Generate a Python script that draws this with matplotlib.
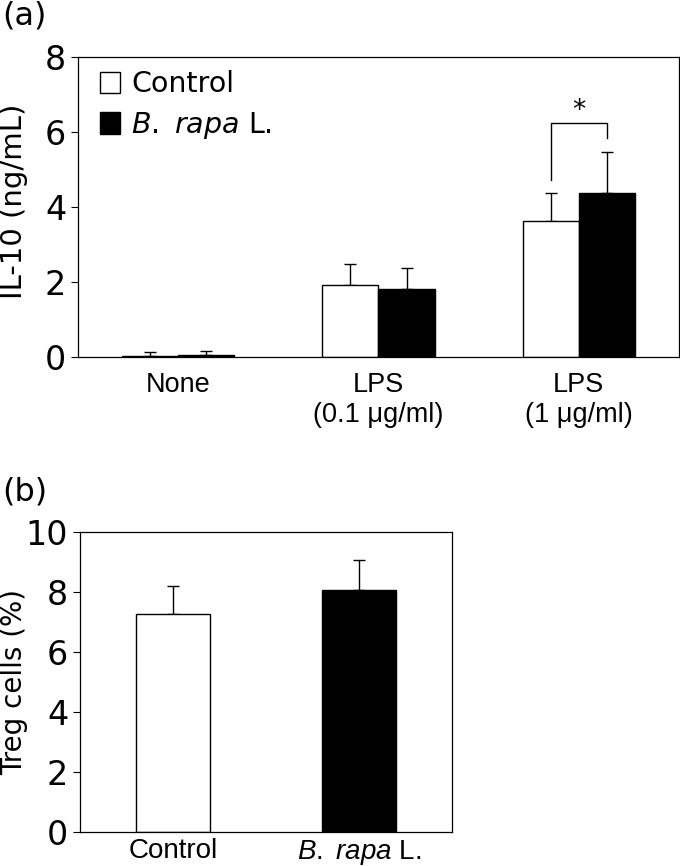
import matplotlib
matplotlib.use("Agg")
import matplotlib.pyplot as plt
from matplotlib.patches import Patch
import numpy as np

plt.rcParams['font.family'] = ['DejaVu Sans']
plt.rcParams['mathtext.fontset'] = 'dejavusans'
plt.rcParams['mathtext.it'] = 'Liberation Sans:italic'
plt.rcParams['mathtext.rm'] = 'Liberation Sans'

# Panel (a) data
groups_a = ["None", "LPS\n(0.1 μg/ml)", "LPS\n(1 μg/ml)"]
control_a = [0.02, 1.91, 3.63]
control_a_err = [0.11, 0.56, 0.73]
rapa_a = [0.06, 1.80, 4.37]
rapa_a_err = [0.10, 0.58, 1.09]
yticks_a = [0, 2, 4, 6, 8]

# Panel (b) data
groups_b = ["Control", r"$\it{B.}$ $\it{rapa}$ L."]
treg = [7.28, 8.07]
treg_err = [0.91, 0.99]
yticks_b = [0, 2, 4, 6, 8, 10]

fig = plt.figure(figsize=(6.8, 8.66), dpi=100)

# ---------- Panel (a) ----------
axa = fig.add_axes([0.1147, 0.5878, 0.8838, 0.3464])
x = np.arange(len(groups_a))
w = 0.28
axa.bar(x - w/2, control_a, w, color='white', edgecolor='black', linewidth=1.0, zorder=2)
axa.bar(x + w/2, rapa_a, w, color='black', edgecolor='black', linewidth=1.0, zorder=2)
axa.errorbar(x - w/2, control_a, yerr=[np.zeros(len(x)), control_a_err], fmt='none',
             ecolor='black', elinewidth=1.0, capsize=4.5, capthick=1.0, zorder=1)
axa.errorbar(x + w/2, rapa_a, yerr=[np.zeros(len(x)), rapa_a_err], fmt='none',
             ecolor='black', elinewidth=1.0, capsize=4.5, capthick=1.0, zorder=1)
axa.set_xlim(-0.5, 2.5)
axa.set_ylim(0, 8)
axa.set_yticks(yticks_a)
axa.set_xticks(x)
axa.set_xticklabels(groups_a, fontfamily='Liberation Sans', fontsize=19.5, linespacing=1.2)
axa.tick_params(axis='x', length=0, pad=11)
axa.tick_params(axis='y', direction='out', length=5, width=0.8, pad=3.5, labelsize=24)
axa.set_ylabel("IL-10 (ng/mL)", fontsize=21)
axa.yaxis.set_label_coords(-0.083, 0.52)
for s in axa.spines.values():
    s.set_linewidth(0.9)

# significance bracket
xl, xr = 2 - w/2, 2 + w/2
axa.plot([xl, xl, xr, xr], [4.72, 6.24, 6.24, 5.84], color='black', linewidth=1.0)
axa.text(2, 6.55, "*", ha='center', va='center', fontsize=19)

handles = [Patch(facecolor='white', edgecolor='black', linewidth=1.0),
           Patch(facecolor='black', edgecolor='black', linewidth=1.0)]
axa.legend(handles, ["Control", r"$\it{B.}$ $\it{rapa}$ L."], loc='upper left',
           bbox_to_anchor=(0.036, 0.955), frameon=False, fontsize=20.5,
           handlelength=0.7, handleheight=0.8, handletextpad=0.4,
           labelspacing=0.4, borderpad=0, borderaxespad=0)
for t in axa.get_legend().get_texts():
    t.set_math_fontfamily('dejavusans')

fig.text(0.003, 0.982, "(a)", fontsize=23, ha='left', va='center')

# ---------- Panel (b) ----------
axb = fig.add_axes([0.1176, 0.0393, 0.5471, 0.3464])
xb = np.arange(len(groups_b))
wb = 0.40
axb.bar(xb, treg, wb, color=['white', 'black'], edgecolor='black', linewidth=1.0, zorder=2)
axb.errorbar(xb, treg, yerr=[np.zeros(len(xb)), treg_err], fmt='none',
             ecolor='black', elinewidth=1.0, capsize=4.5, capthick=1.0, zorder=1)
axb.set_xlim(-0.5, 1.5)
axb.set_ylim(0, 10)
axb.set_yticks(yticks_b)
axb.set_xticks(xb)
axb.set_xticklabels(groups_b, fontfamily='Liberation Sans', fontsize=20)
for lbl in axb.get_xticklabels():
    lbl.set_math_fontfamily('custom')
axb.tick_params(axis='x', length=0, pad=4)
axb.tick_params(axis='y', direction='out', length=5, width=0.8, pad=3.5, labelsize=24)
axb.set_ylabel("Treg cells (%)", fontsize=20)
axb.yaxis.set_label_coords(-0.14, 0.5)
for s in axb.spines.values():
    s.set_linewidth(0.9)

fig.text(0.003, 0.432, "(b)", fontsize=23, ha='left', va='center')

fig.savefig("out.png", dpi=100)
